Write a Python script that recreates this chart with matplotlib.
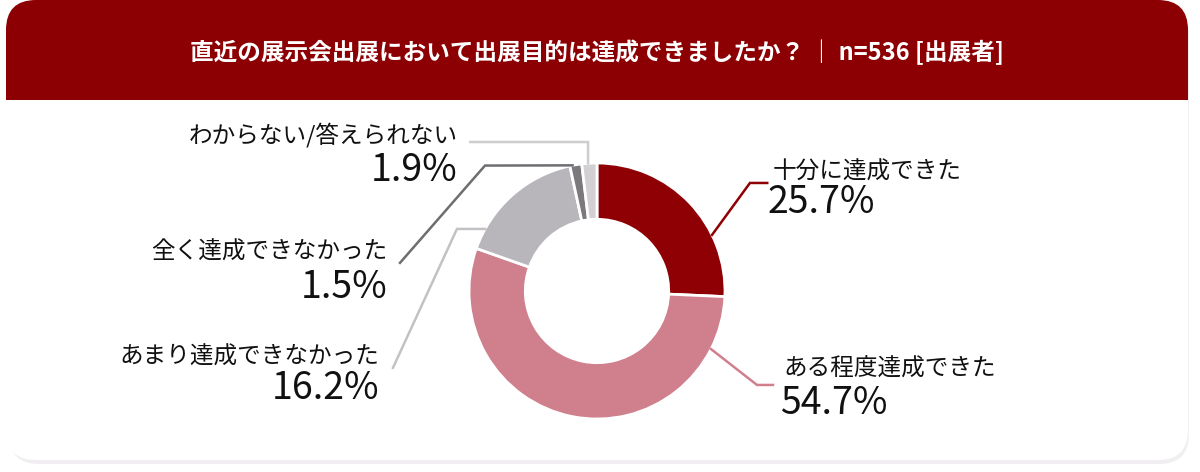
import matplotlib
matplotlib.use("Agg")
import matplotlib.pyplot as plt
import numpy as np
from matplotlib.patches import FancyBboxPatch, Rectangle

plt.rcParams['font.family'] = ['Noto Sans CJK JP', 'DejaVu Sans']

# データ
title = "直近の展示会出展において出展目的は達成できましたか？ ｜ n=536 [出展者]"
labels = ["十分に達成できた", "ある程度達成できた", "あまり達成できなかった",
          "全く達成できなかった", "わからない/答えられない"]
values = [25.7, 54.7, 16.2, 1.5, 1.9]
colors = ["#8e0004", "#d0808c", "#b9b6bb", "#7b797d", "#d3d0d4"]
line_colors = ["#8e0004", "#d0808c", "#c4c1c6", "#6f6d71", "#cfccd0"]

# ラベル配置（円の半径=1 の座標）: 始点角度, 折れ点, 終点, 文字位置, 揃え
layout = [
    (26, (1.195, 0.844), (1.33, 0.844), (1.37, 0.93), (1.33, 0.69), "left"),
    (-27, (1.25, -0.734), (1.375, -0.734), (1.46, -0.61), (1.43, -0.88), "left"),
    (151, (-1.094, 0.485), (-1.594, -0.60), (-1.70, -0.52), (-1.70, -0.76), "right"),
    (101, (-0.875, 0.98), (-1.539, 0.22), (-1.64, 0.30), (-1.64, 0.03), "right"),
    (94, (-0.07, 1.164), (-0.99, 1.164), (-1.09, 1.22), (-1.09, 0.945), "right"),
]

W, H = 1200, 472
fig = plt.figure(figsize=(W / 100, H / 100), dpi=100)
fig.patch.set_facecolor("white")

# 背景カード
bg = fig.add_axes([0, 0, 1, 1])
bg.set_xlim(0, W)
bg.set_ylim(H, 0)
bg.axis("off")
bg.add_patch(FancyBboxPatch((9, 6), 1180, 458, boxstyle="round,pad=0,rounding_size=30",
                            fc="#f1eef1", ec="none"))
bg.add_patch(FancyBboxPatch((6, 0), 1182, 460, boxstyle="round,pad=0,rounding_size=30",
                            fc="white", ec="none"))
bg.add_patch(FancyBboxPatch((6, 0), 1182, 150, boxstyle="round,pad=0,rounding_size=30",
                            fc="#8c0003", ec="none"))
bg.add_patch(Rectangle((6, 100), 1182, 60, fc="white", ec="none"))
bg.text(597, 52, title, color="white", fontsize=17, fontweight="bold",
        ha="center", va="center")

# ドーナツ
R = 128
cx, cy = 597, 291
half = 236
ax = fig.add_axes([(cx - half) / W, (H - cy - half) / H, 2 * half / W, 2 * half / H])
ax.pie(values, colors=colors, startangle=90, counterclock=False, radius=1,
       wedgeprops=dict(width=0.44, edgecolor="white", linewidth=2))
ax.set_aspect("equal")
ax.set_xlim(-half / R, half / R)
ax.set_ylim(-half / R, half / R)
ax.axis("off")

for lab, val, lc, (ang, elbow, end, tpos, ppos, ha) in zip(labels, values, line_colors, layout):
    a = np.deg2rad(ang)
    sx, sy = np.cos(a), np.sin(a)
    ax.plot([sx, elbow[0], end[0]], [sy, elbow[1], end[1]], color=lc, lw=1.8,
            clip_on=False, solid_joinstyle="miter")
    ax.text(tpos[0], tpos[1], lab, fontsize=17, ha=ha, va="center",
            color="#111111", clip_on=False)
    ax.text(ppos[0], ppos[1], f"{val}%", fontsize=27, ha=ha, va="center",
            color="#111111", clip_on=False)

fig.savefig("out.png", dpi=100)
